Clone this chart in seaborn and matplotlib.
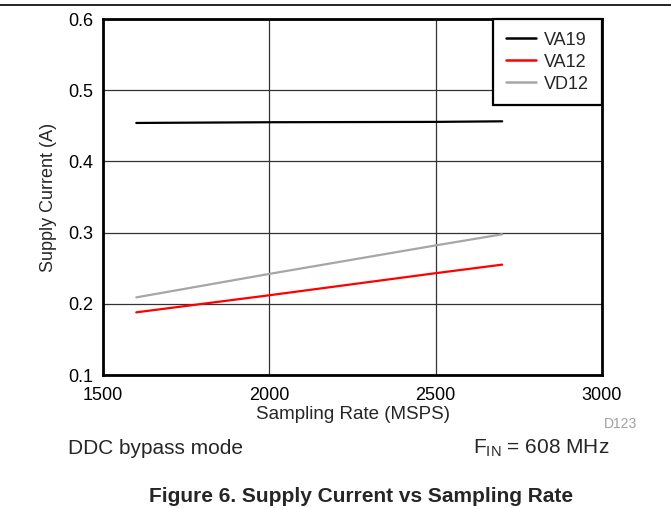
import matplotlib
matplotlib.use("Agg")
import matplotlib.pyplot as plt
import seaborn as sns
import pandas as pd

sampling_rate = [1600, 2000, 2500, 2700]
va19 = [0.454, 0.455, 0.4555, 0.4563]
va12 = [0.188, 0.212, 0.243, 0.255]
vd12 = [0.209, 0.242, 0.282, 0.2976]
series_names = ["VA19", "VA12", "VD12"]
series_colors = ["#000000", "#ff0000", "#a6a6a6"]
x_ticks = [1500, 2000, 2500, 3000]
y_ticks = [0.1, 0.2, 0.3, 0.4, 0.5, 0.6]

df = pd.DataFrame({
    "Sampling Rate (MSPS)": sampling_rate * 3,
    "Supply Current (A)": va19 + va12 + vd12,
    "Series": [n for n in series_names for _ in sampling_rate],
})

sns.set_style("white")
plt.rcParams["font.family"] = ["Liberation Sans", "DejaVu Sans"]

fig = plt.figure(figsize=(6.71, 5.08), dpi=100)
ax = fig.add_axes([103/671, 1-375/508, (602-103)/671, (375-19)/508])

sns.lineplot(data=df, x="Sampling Rate (MSPS)", y="Supply Current (A)", hue="Series",
             hue_order=series_names, palette=dict(zip(series_names, series_colors)),
             linewidth=1.6, ax=ax, legend=True)

ax.set_xlim(1500, 3000)
ax.set_ylim(0.1, 0.6)
ax.set_xticks(x_ticks)
ax.set_xticklabels([str(t) for t in x_ticks])
ax.set_yticks(y_ticks)
ax.set_yticklabels([f"{t:.1f}" for t in y_ticks])
ax.grid(True, color="#333333", linewidth=0.9)
ax.set_axisbelow(True)
for s in ax.spines.values():
    s.set_color("black")
    s.set_linewidth(2)
ax.tick_params(axis="x", labelsize=13, length=0, pad=9, colors="black")
ax.tick_params(axis="y", labelsize=13, length=0, pad=7, colors="black")
ax.set_xlabel("Sampling Rate (MSPS)", fontsize=13.5, labelpad=1)
ax.set_ylabel("Supply Current (A)", fontsize=13, labelpad=8)

leg = ax.legend(loc="upper right", fontsize=13, frameon=True, fancybox=False,
                borderaxespad=0, handlelength=1.7, handletextpad=0.45,
                labelspacing=0.28, borderpad=0.7)
leg.get_frame().set_edgecolor("black")
leg.get_frame().set_linewidth(1.6)
leg.get_frame().set_alpha(1)
for h in leg.get_lines():
    h.set_linewidth(1.8)

fig.add_artist(plt.Line2D([0, 1], [1-5/508, 1-5/508], color="black", linewidth=1.2,
                          transform=fig.transFigure))
fig.text(637/671, 1-424/508, "D123", fontsize=10, color="#a0a0a0", ha="right", va="center")
fig.text(68/671, 1-448/508, "DDC bypass mode", fontsize=15, ha="left", va="center")
fig.text(609/671, 1-448/508, r"F$_{\mathregular{IN}}$ = 608 MHz", fontsize=15, ha="right", va="center")
fig.text(361/671, 1-496/508, "Figure 6. Supply Current vs Sampling Rate", fontsize=15,
         fontweight="bold", ha="center", va="center")

fig.savefig("out.png", dpi=100)
